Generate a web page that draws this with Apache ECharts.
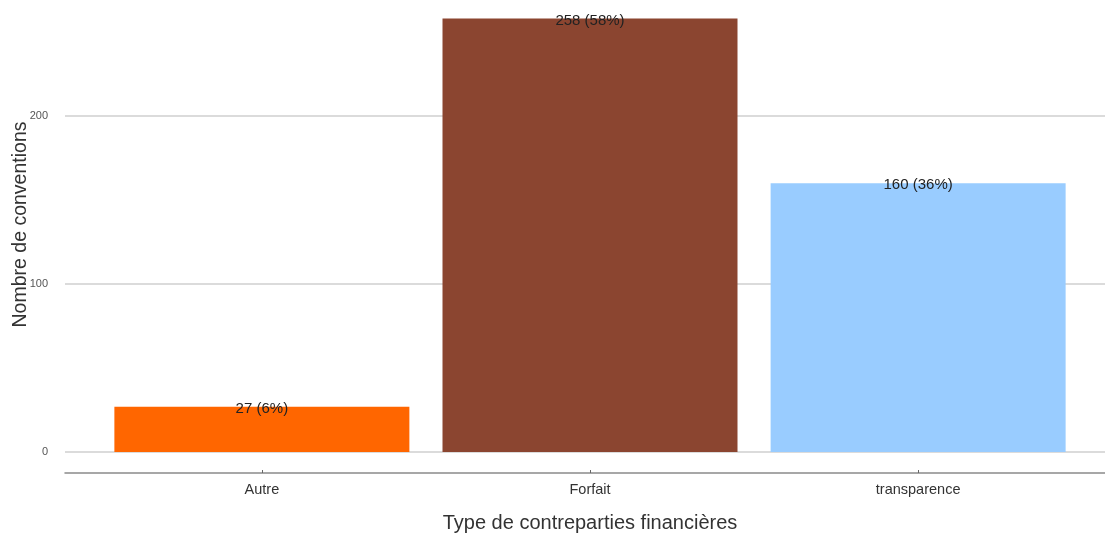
<!DOCTYPE html>
<html>
<head>
<meta charset="utf-8">
<script src="https://cdn.jsdelivr.net/npm/echarts@6/dist/echarts.min.js"></script>
<style>
html,body{margin:0;padding:0;background:#fff;}
#chart{width:1105px;height:539px;}
</style>
</head>
<body>
<div id="chart"></div>
<script>
const categories = ['Autre', 'Forfait', 'transparence'];
const counts = [27, 258, 160];
const percents = ['6%', '58%', '36%'];
const barColors = ['#FF6600', '#8B4530', '#99CCFF'];
const yTicks = [0, 100, 200];

const chart = echarts.init(document.getElementById('chart'));
const fontFamily = '"Liberation Sans", Arial, sans-serif';

const data = counts.map((v, i) => ({
  value: [i + 1, v],
  itemStyle: { color: barColors[i] },
  label: { formatter: v + ' (' + percents[i] + ')' }
}));

chart.setOption({
  animation: false,
  grid: { left: 65, right: -10, top: -3, bottom: 87, containLabel: false, outerBoundsMode: 'none' },
  xAxis: {
    type: 'value',
    min: 0.4,
    max: 3.6,
    offset: 21,
    name: 'Type de contreparties financières',
    nameLocation: 'middle',
    nameGap: 40,
    nameMoveOverlap: false,
    nameTextStyle: { fontSize: 20, color: '#333', fontFamily: fontFamily },
    axisLine: { show: true, onZero: false, lineStyle: { color: '#8a8a8a', width: 1.5 } },
    axisTick: { show: true, customValues: [1, 2, 3], length: 3, inside: true, lineStyle: { color: '#666' } },
    axisLabel: {
      customValues: [1, 2, 3],
      formatter: v => categories[Math.round(v) - 1] || '',
      fontSize: 14.5,
      color: '#333',
      margin: 9,
      fontFamily: fontFamily
    },
    splitLine: { show: false }
  },
  yAxis: {
    type: 'value',
    min: 0,
    max: 270.8,
    interval: 100,
    name: 'Nombre de conventions',
    nameLocation: 'middle',
    nameGap: 34,
    nameMoveOverlap: false,
    nameTextStyle: { fontSize: 19.5, color: '#333', fontFamily: fontFamily },
    axisLine: { show: false },
    axisTick: { show: false },
    axisLabel: {
      showMaxLabel: false,
      formatter: v => (yTicks.indexOf(v) >= 0 ? String(v) : ''),
      fontSize: 11,
      color: '#555',
      margin: 17,
      fontFamily: fontFamily
    },
    splitLine: { show: true, lineStyle: { color: '#cfcfcf', width: 1.5 } }
  },
  series: [{
    type: 'bar',
    data: data,
    barWidth: 295,
    label: {
      show: true,
      position: ['50%', 2],
      align: 'center',
      verticalAlign: 'middle',
      fontSize: 15,
      color: '#222',
      fontFamily: fontFamily
    }
  }]
});
</script>
</body>
</html>
